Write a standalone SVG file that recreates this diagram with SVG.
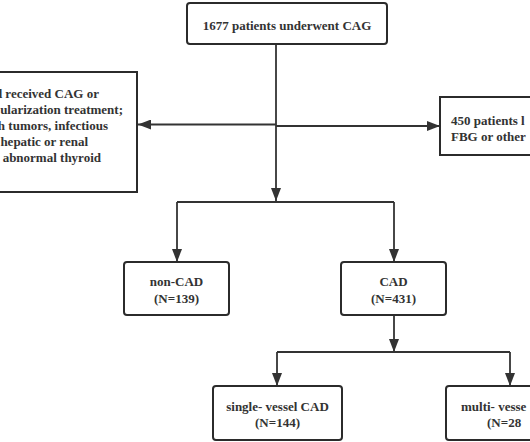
<svg xmlns="http://www.w3.org/2000/svg" width="530" height="442" viewBox="0 0 530 442">
<style>
.box{fill:#fff;stroke:#2b2b2b;stroke-width:2}
.ln{fill:none;stroke:#333;stroke-width:1.8}
text{font-family:"Liberation Serif","Times New Roman",serif;font-weight:bold;font-size:13px;fill:#333}
.c{text-anchor:middle}
.e{text-anchor:end}
</style>
<defs>
<marker id="ah" markerUnits="userSpaceOnUse" markerWidth="13" markerHeight="10" refX="13" refY="5" orient="auto">
<path d="M0,0 L13,5 L0,10 z" fill="#333"/>
</marker>
</defs>
<rect width="530" height="442" fill="#fff"/>
<g id="connectors">
<line class="ln" x1="276" y1="44" x2="276" y2="201" marker-end="url(#ah)"/>
<line class="ln" x1="276" y1="124.5" x2="138" y2="124.5" marker-end="url(#ah)"/>
<line class="ln" x1="276" y1="126" x2="440" y2="126" marker-end="url(#ah)"/>
<line class="ln" x1="177" y1="202" x2="394" y2="202"/>
<line class="ln" x1="177" y1="202" x2="177" y2="262" marker-end="url(#ah)"/>
<line class="ln" x1="394" y1="202" x2="394" y2="262" marker-end="url(#ah)"/>
<line class="ln" x1="394" y1="315" x2="394" y2="352" marker-end="url(#ah)"/>
<line class="ln" x1="277" y1="352" x2="510" y2="352"/>
<line class="ln" x1="277" y1="352" x2="277" y2="386" marker-end="url(#ah)"/>
<line class="ln" x1="510" y1="352" x2="510" y2="386" marker-end="url(#ah)"/>
</g>
<g id="top">
<rect class="box" x="187" y="3" width="200" height="41" rx="3"/>
<text class="c" x="287" y="29.5">1677 patients underwent CAG</text>
</g>
<g id="excluded-left">
<rect class="box" x="-5" y="72" width="142" height="120"/>
<text class="e" x="99" y="97.5">d received CAG or</text>
<text class="e" x="123" y="113.5">ularization treatment;</text>
<text class="e" x="108" y="129.5">h tumors, infectious</text>
<text class="e" x="88" y="145.5">hepatic or renal</text>
<text class="e" x="101" y="161.5">r abnormal thyroid</text>
</g>
<g id="excluded-right">
<rect class="box" x="440" y="97" width="100" height="58"/>
<text x="451" y="124.5">450 patients l</text>
<text x="451" y="140.5">FBG or other</text>
</g>
<g id="noncad">
<rect class="box" x="124" y="262" width="105" height="53" rx="3"/>
<text class="c" x="176.5" y="286">non-CAD</text>
<text class="c" x="176.5" y="302.5">(N=139)</text>
</g>
<g id="cad">
<rect class="box" x="341" y="262" width="105" height="53" rx="3"/>
<text class="c" x="393.5" y="286">CAD</text>
<text class="c" x="393.5" y="302.5">(N=431)</text>
</g>
<g id="single">
<rect class="box" x="213" y="386" width="129" height="54" rx="3"/>
<text class="c" x="277.5" y="411">single- vessel CAD</text>
<text class="c" x="277.5" y="427">(N=144)</text>
</g>
<g id="multi">
<rect class="box" x="446" y="386" width="129" height="54" rx="3"/>
<text x="461" y="411">multi- vesse</text>
<text x="487" y="427">(N=28</text>
</g>
</svg>
